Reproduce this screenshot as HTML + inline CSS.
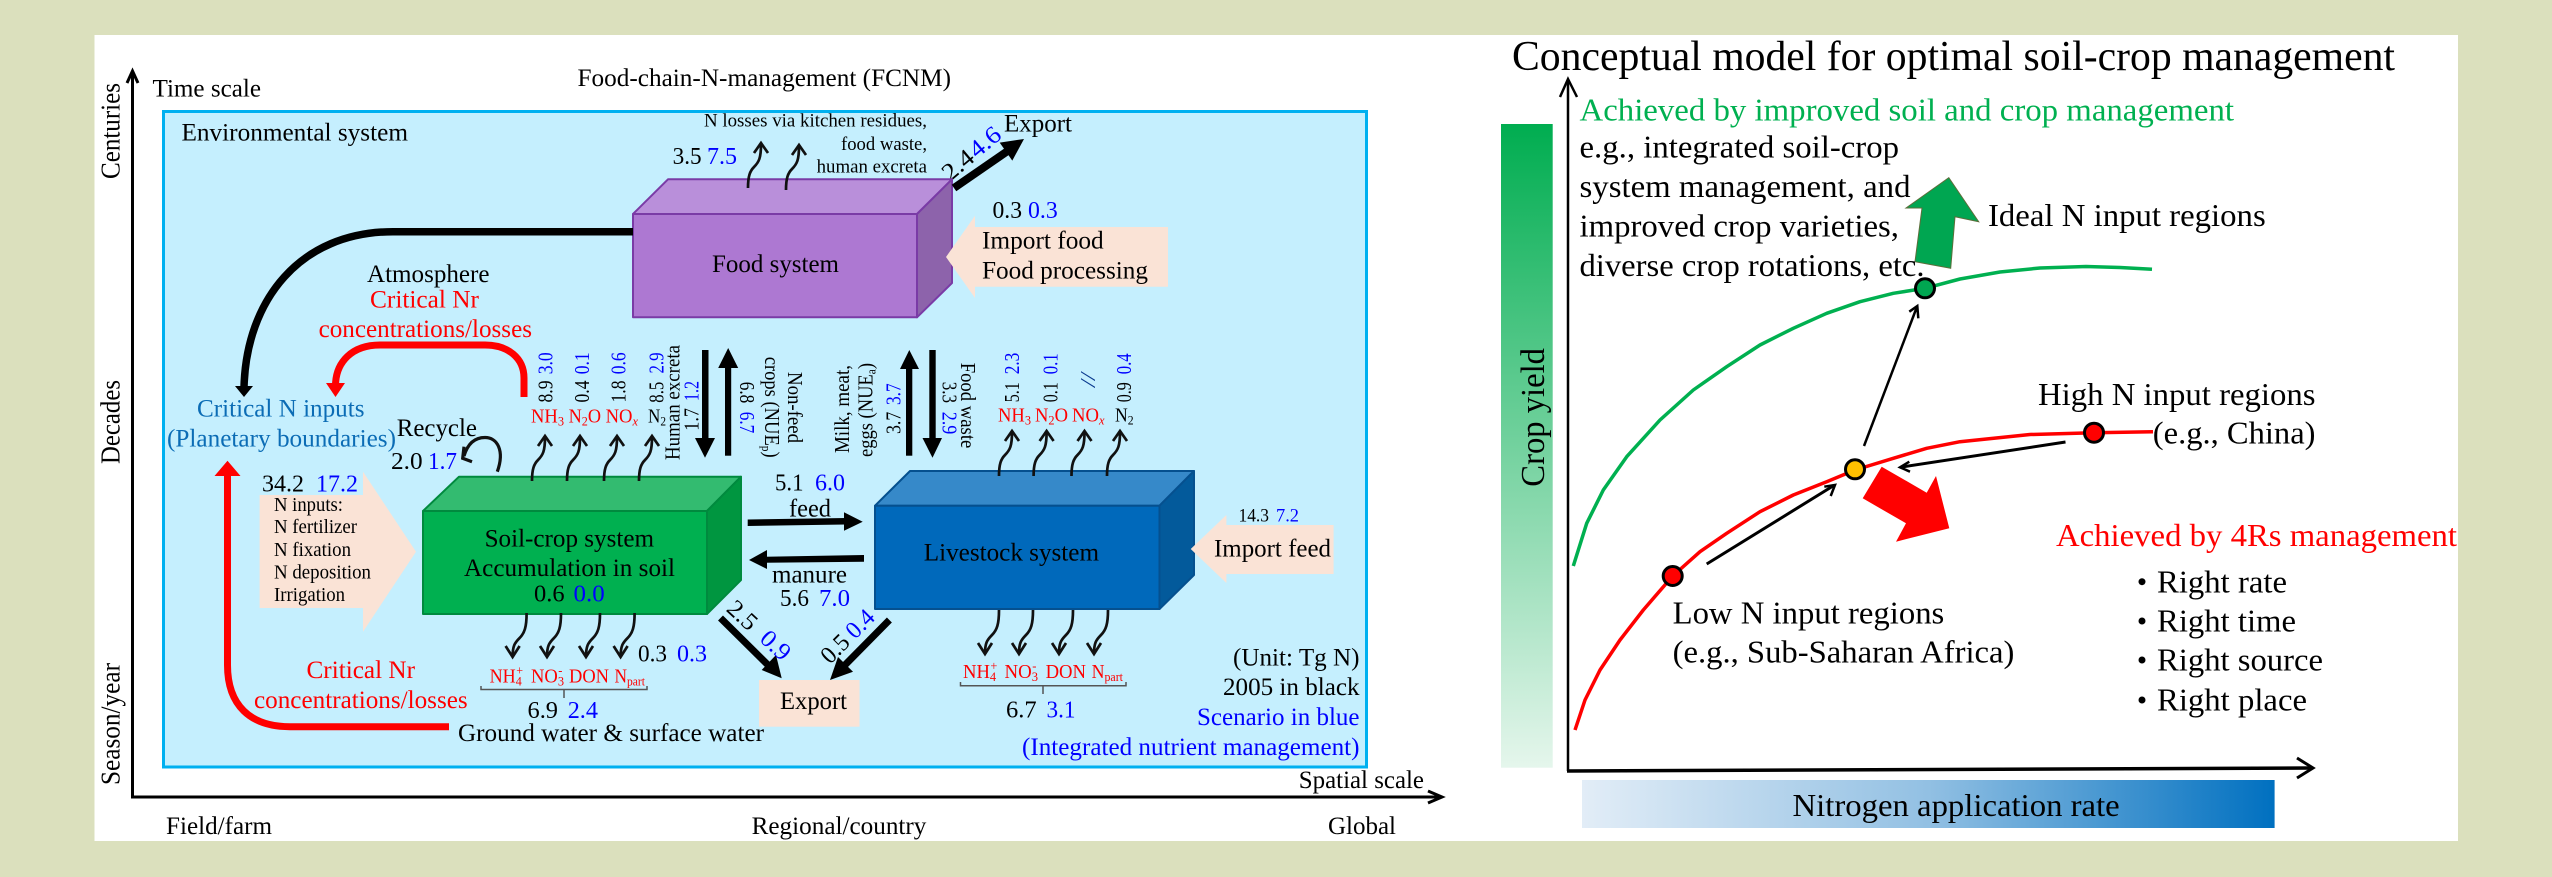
<!DOCTYPE html>
<html><head><meta charset="utf-8"><style>
html,body{margin:0;padding:0;background:#dbe0bd}
svg{display:block}
text{font-family:"Liberation Serif",serif;fill:#000}
.b{fill:#0000ff}.r{fill:#ff0000}.c{fill:#0b6cb5}.g{fill:#00b050}
.s{font-size:25.5px}.m{font-size:24.5px}.n{font-size:21px}.t{font-size:18.5px}.h{font-size:19.5px}.l{font-size:32px}
</style></head><body>
<svg width="2552" height="877" viewBox="0 0 2552 877" xmlns="http://www.w3.org/2000/svg">
<defs>
<linearGradient id="gg" x1="0" y1="0" x2="0" y2="1"><stop offset="0" stop-color="#00ad50"/><stop offset="1" stop-color="#e5f6ec"/></linearGradient>
<linearGradient id="bg" x1="0" y1="0" x2="1" y2="0"><stop offset="0" stop-color="#e2edf7"/><stop offset=".5" stop-color="#92c0e3"/><stop offset="1" stop-color="#0070c0"/></linearGradient>
<g id="up" fill="none" stroke="#111" stroke-width="2.7"><path d="M0 0C0 -12 2 -17 6 -21C11 -26 13 -30 13 -44"/><path d="M6 -35L13 -45L20 -35"/></g>
<g id="dn" fill="none" stroke="#111" stroke-width="2.7"><path d="M0 0C0 14 -2 20 -7 25C-12 30 -14 33 -14 44"/><path d="M-21 33L-14 44L-7 33"/></g>
</defs>
<rect width="2552" height="877" fill="#dbe0bd"/>
<rect x="94.5" y="35" width="2363.5" height="806" fill="#fff"/>

<!-- LEFT PANEL -->
<rect x="163.5" y="111.5" width="1203" height="655.5" fill="#c5effe" stroke="#00b0f0" stroke-width="3"/>
<g fill="none" stroke="#000" stroke-width="3"><path d="M132.5 72V797H1441"/><path d="M127 83L132.5 71L138 83"/><path d="M1428 791L1442 797L1428 803"/></g>

<text class="s" x="152.5" y="96.7" textLength="108.5" lengthAdjust="spacingAndGlyphs">Time scale</text>
<text class="s" x="577.5" y="86" textLength="373.5" lengthAdjust="spacingAndGlyphs">Food-chain-N-management (FCNM)</text>
<text font-size="27" transform="translate(119.5 179) rotate(-90)" textLength="96" lengthAdjust="spacingAndGlyphs">Centuries</text>
<text font-size="27" transform="translate(119.5 464) rotate(-90)" textLength="84" lengthAdjust="spacingAndGlyphs">Decades</text>
<text font-size="27" transform="translate(119.5 785) rotate(-90)" textLength="122" lengthAdjust="spacingAndGlyphs">Season/year</text>
<text class="s" x="181.5" y="140.7" textLength="226.5" lengthAdjust="spacingAndGlyphs">Environmental system</text>
<text class="t" x="704" y="126.7" textLength="223" lengthAdjust="spacingAndGlyphs">N losses via kitchen residues,</text>
<text class="t" x="841" y="150" textLength="86" lengthAdjust="spacingAndGlyphs">food waste,</text>
<text class="t" x="816.6" y="172.7" textLength="110.4" lengthAdjust="spacingAndGlyphs">human excreta</text>
<text class="m" x="672.6" y="164" textLength="29" lengthAdjust="spacingAndGlyphs">3.5</text>
<text class="m b" x="707" y="164" textLength="30" lengthAdjust="spacingAndGlyphs">7.5</text>
<text class="s" x="1004" y="131.7" textLength="68" lengthAdjust="spacingAndGlyphs">Export</text>
<text class="m" transform="translate(950 182) rotate(-40)" textLength="34" lengthAdjust="spacingAndGlyphs">2.4</text>
<text class="m b" transform="translate(977 159) rotate(-40)" textLength="34" lengthAdjust="spacingAndGlyphs">4.6</text>
<text class="m" x="992.5" y="218" textLength="29.5" lengthAdjust="spacingAndGlyphs">0.3</text>
<text class="m b" x="1028" y="218" textLength="29.7" lengthAdjust="spacingAndGlyphs">0.3</text>

<!-- Food system box -->
<g stroke="#7a3ba6" stroke-width="2" stroke-linejoin="round">
<polygon points="633,214 668,179.3 952,179.3 917,214" fill="#b98fda"/>
<polygon points="917,214 952,179.3 952,283 917,317.3" fill="#8d63ab"/>
<rect x="633" y="214" width="284" height="103.3" fill="#ad78d2"/>
</g>
<use href="#up" x="748" y="188"/>
<use href="#up" x="786" y="190"/>
<text class="s" x="712" y="272" textLength="127" lengthAdjust="spacingAndGlyphs">Food system</text>
<!-- Export arrow -->
<line x1="954" y1="188" x2="1012" y2="148" stroke="#000" stroke-width="8"/>
<polygon points="1024,139 1012.3,160.6 999.7,142.6" fill="#000"/>
<!-- Import food -->
<polygon points="946,257 975,215.7 975,227 1168,227 1168,286.7 975,286.7 975,298" fill="#fae3d6"/>
<text class="s" x="982" y="248.7" textLength="121.7" lengthAdjust="spacingAndGlyphs">Import food</text>
<text class="s" x="982" y="278.7" textLength="166" lengthAdjust="spacingAndGlyphs">Food processing</text>

<!-- Black curve -->
<path d="M633 231.7H393C300 231.7 246 300 244 388" fill="none" stroke="#000" stroke-width="7.5"/>
<polygon points="244,397 235,386 253,386" fill="#000"/>
<text class="s" x="367" y="282" textLength="122.5" lengthAdjust="spacingAndGlyphs">Atmosphere</text>
<text class="s r" x="370" y="307.7" textLength="109" lengthAdjust="spacingAndGlyphs">Critical Nr</text>
<text class="s r" x="318.6" y="337" textLength="213.4" lengthAdjust="spacingAndGlyphs">concentrations/losses</text>
<text class="s c" x="197" y="416.7" textLength="167.5" lengthAdjust="spacingAndGlyphs">Critical N inputs</text>
<text class="s c" x="167" y="446.7" textLength="229" lengthAdjust="spacingAndGlyphs">(Planetary boundaries)</text>
<text class="s" x="396.7" y="436" textLength="80.3" lengthAdjust="spacingAndGlyphs">Recycle</text>
<!-- Red atmosphere arrow -->
<path d="M524 397V378C524 358 508 345 485 345H380C352 345 336 362 335.5 385" fill="none" stroke="#f00" stroke-width="7"/>
<polygon points="335.5,397 326,383 345,383" fill="#f00"/>
<!-- Recycle arrow -->
<path d="M497.3 471.7C505 450 497 437.5 485 437.5C473 437.5 467 446 464 456" fill="none" stroke="#111" stroke-width="3.2"/>
<path d="M464 446.7L462.7 458.3L472 461.7" fill="none" stroke="#111" stroke-width="3.2"/>

<!-- vertical numbers group 1 -->
<text class="n" transform="translate(552.7 402.5) rotate(-90)" textLength="22" lengthAdjust="spacingAndGlyphs">8.9</text>
<text class="n b" transform="translate(552.7 374.3) rotate(-90)" textLength="22" lengthAdjust="spacingAndGlyphs">3.0</text>
<text class="n" transform="translate(589 402.5) rotate(-90)" textLength="22" lengthAdjust="spacingAndGlyphs">0.4</text>
<text class="n b" transform="translate(589 374.3) rotate(-90)" textLength="22" lengthAdjust="spacingAndGlyphs">0.1</text>
<text class="n" transform="translate(625.7 402.5) rotate(-90)" textLength="22" lengthAdjust="spacingAndGlyphs">1.8</text>
<text class="n b" transform="translate(625.7 374.3) rotate(-90)" textLength="22" lengthAdjust="spacingAndGlyphs">0.6</text>
<text class="n" transform="translate(663.3 402.7) rotate(-90)" textLength="21" lengthAdjust="spacingAndGlyphs">8.5</text>
<text class="n b" transform="translate(663.3 373.5) rotate(-90)" textLength="21" lengthAdjust="spacingAndGlyphs">2.9</text>
<text class="n" transform="translate(679.3 460) rotate(-90)" textLength="115" lengthAdjust="spacingAndGlyphs">Human excreta</text>
<text class="n" transform="translate(698.3 430.7) rotate(-90)" textLength="22.7" lengthAdjust="spacingAndGlyphs">1.7</text>
<text class="n b" transform="translate(698.3 401) rotate(-90)" textLength="20" lengthAdjust="spacingAndGlyphs">1.2</text>
<!-- vertical food arrows -->
<g fill="#000">
<rect x="702" y="350" width="6.5" height="90"/><polygon points="705,457.7 695,438 715,438"/>
<rect x="725" y="366" width="6.2" height="89.7"/><polygon points="728.2,348 718.2,368 738.2,368"/>
<rect x="906" y="366" width="6.3" height="89.7"/><polygon points="909.3,350 900,369 919,369"/>
<rect x="929.3" y="350" width="6.4" height="90"/><polygon points="932.5,457.7 922.5,438 942,438"/>
</g>
<text class="n" transform="translate(740 381.7) rotate(90)" textLength="21.6" lengthAdjust="spacingAndGlyphs">6.8</text>
<text class="n b" transform="translate(740 411.7) rotate(90)" textLength="21.6" lengthAdjust="spacingAndGlyphs">6.7</text>
<text class="n" transform="translate(765 356.7) rotate(90)" textLength="101" lengthAdjust="spacingAndGlyphs">crops (NUE<tspan font-size="13" dy="3">p</tspan><tspan dy="-3">)</tspan></text>
<text class="n" transform="translate(788 372) rotate(90)" textLength="71" lengthAdjust="spacingAndGlyphs">Non-feed</text>
<text class="n" transform="translate(849 453) rotate(-90)" textLength="88" lengthAdjust="spacingAndGlyphs">Milk, meat,</text>
<text class="n" transform="translate(872.5 457) rotate(-90)" textLength="94" lengthAdjust="spacingAndGlyphs">eggs (NUE<tspan font-size="13" dy="3">a</tspan><tspan dy="-3">)</tspan></text>
<text class="n" transform="translate(900.7 434) rotate(-90)" textLength="22.3" lengthAdjust="spacingAndGlyphs">3.7</text>
<text class="n b" transform="translate(900.7 405) rotate(-90)" textLength="21.7" lengthAdjust="spacingAndGlyphs">3.7</text>
<text class="n" transform="translate(942.7 381.7) rotate(90)" textLength="21.3" lengthAdjust="spacingAndGlyphs">3.3</text>
<text class="n b" transform="translate(942.7 411.7) rotate(90)" textLength="22.6" lengthAdjust="spacingAndGlyphs">2.9</text>
<text class="n" transform="translate(961 362.7) rotate(90)" textLength="85.6" lengthAdjust="spacingAndGlyphs">Food waste</text>
<text class="n" transform="translate(1019 402.3) rotate(-90)" textLength="20" lengthAdjust="spacingAndGlyphs">5.1</text>
<text class="n b" transform="translate(1019 374.3) rotate(-90)" textLength="21.6" lengthAdjust="spacingAndGlyphs">2.3</text>
<text class="n" transform="translate(1057.7 402.3) rotate(-90)" textLength="20" lengthAdjust="spacingAndGlyphs">0.1</text>
<text class="n b" transform="translate(1057.7 374.3) rotate(-90)" textLength="21" lengthAdjust="spacingAndGlyphs">0.1</text>
<text class="n" font-style="italic" transform="translate(1095 387) rotate(-90)" textLength="14" lengthAdjust="spacingAndGlyphs" style="fill:#0b3a8f">//</text>
<text class="n" transform="translate(1131 402.3) rotate(-90)" textLength="20" lengthAdjust="spacingAndGlyphs">0.9</text>
<text class="n b" transform="translate(1131 374.3) rotate(-90)" textLength="21" lengthAdjust="spacingAndGlyphs">0.4</text>

<!-- gas labels -->
<text class="h r" x="531" y="422.7" textLength="33" lengthAdjust="spacingAndGlyphs">NH<tspan font-size="13" dy="3">3</tspan></text>
<text class="h r" x="568.6" y="422.7" textLength="32.4" lengthAdjust="spacingAndGlyphs">N<tspan font-size="13" dy="3">2</tspan><tspan dy="-3">O</tspan></text>
<text class="h r" x="605.6" y="422.7" textLength="32.4" lengthAdjust="spacingAndGlyphs">NO<tspan font-size="13" dy="3" font-style="italic">x</tspan></text>
<text class="h" x="648" y="422.7" textLength="18" lengthAdjust="spacingAndGlyphs">N<tspan font-size="13" dy="3">2</tspan></text>
<text class="h r" x="998" y="421.7" textLength="33" lengthAdjust="spacingAndGlyphs">NH<tspan font-size="13" dy="3">3</tspan></text>
<text class="h r" x="1035" y="421.7" textLength="33" lengthAdjust="spacingAndGlyphs">N<tspan font-size="13" dy="3">2</tspan><tspan dy="-3">O</tspan></text>
<text class="h r" x="1072" y="421.7" textLength="32.5" lengthAdjust="spacingAndGlyphs">NO<tspan font-size="13" dy="3" font-style="italic">x</tspan></text>
<text class="h" x="1115" y="421.7" textLength="18.6" lengthAdjust="spacingAndGlyphs">N<tspan font-size="13" dy="3">2</tspan></text>

<!-- Soil-crop box -->
<g stroke="#008a3e" stroke-width="2" stroke-linejoin="round">
<polygon points="423,511 459,476.7 741,476.7 707,511" fill="#33bb70"/>
<polygon points="707,511 741,476.7 741,580 707,614" fill="#009640"/>
<rect x="423" y="511" width="284" height="103" fill="#00b050"/>
</g>
<use href="#up" x="532" y="481"/><use href="#up" x="567" y="481"/><use href="#up" x="604" y="481"/><use href="#up" x="639" y="481"/>
<use href="#dn" x="526.6" y="613"/><use href="#dn" x="561" y="613"/><use href="#dn" x="600" y="613"/><use href="#dn" x="634.6" y="613"/>
<text class="s" x="484.6" y="546.7" textLength="169.4" lengthAdjust="spacingAndGlyphs">Soil-crop system</text>
<text class="s" x="464" y="576" textLength="211" lengthAdjust="spacingAndGlyphs">Accumulation in soil</text>
<text class="m" x="534" y="601.7" textLength="30.6" lengthAdjust="spacingAndGlyphs">0.6</text>
<text class="m b" x="573.5" y="601.7" textLength="31.2" lengthAdjust="spacingAndGlyphs">0.0</text>
<text class="m" x="391" y="469" textLength="31.6" lengthAdjust="spacingAndGlyphs">2.0</text>
<text class="m b" x="428" y="469" textLength="29" lengthAdjust="spacingAndGlyphs">1.7</text>

<!-- N inputs arrow -->
<polygon points="259.6,495 363,495 363,471.7 416,551.7 363,631.7 363,608 259.6,608" fill="#fae3d6"/>
<text class="m" x="262" y="491.7" textLength="42" lengthAdjust="spacingAndGlyphs">34.2</text>
<text class="m b" x="316" y="491.7" textLength="42" lengthAdjust="spacingAndGlyphs">17.2</text>
<text class="h" x="274" y="511" textLength="69" lengthAdjust="spacingAndGlyphs">N inputs:</text>
<text class="h" x="274" y="533" textLength="83" lengthAdjust="spacingAndGlyphs">N fertilizer</text>
<text class="h" x="274" y="556" textLength="77" lengthAdjust="spacingAndGlyphs">N fixation</text>
<text class="h" x="274" y="578.7" textLength="97" lengthAdjust="spacingAndGlyphs">N deposition</text>
<text class="h" x="274" y="601" textLength="71" lengthAdjust="spacingAndGlyphs">Irrigation</text>

<!-- Red long arrow -->
<path d="M227.5 474V665C227.5 705 250 726.7 290 726.7H449" fill="none" stroke="#f00" stroke-width="7"/>
<polygon points="227.5,460.7 214.5,476 240.5,476" fill="#f00"/>
<text class="s r" x="306.5" y="678" textLength="108.5" lengthAdjust="spacingAndGlyphs">Critical Nr</text>
<text class="s r" x="254" y="708" textLength="213.7" lengthAdjust="spacingAndGlyphs">concentrations/losses</text>

<!-- Soil bottom labels -->
<text class="h r" x="489.6" y="682.7" textLength="33.4" lengthAdjust="spacingAndGlyphs">NH<tspan font-size="13" dy="3">4</tspan><tspan font-size="13" dy="-11" dx="-6">+</tspan></text>
<text class="h r" x="531" y="682.7" textLength="33" lengthAdjust="spacingAndGlyphs">NO<tspan font-size="13" dy="3">3</tspan><tspan font-size="13" dy="-11" dx="-6">-</tspan></text>
<text class="h r" x="569" y="682.7" textLength="40" lengthAdjust="spacingAndGlyphs">DON</text>
<text class="h r" x="614.5" y="682.7" textLength="30.5" lengthAdjust="spacingAndGlyphs">N<tspan font-size="13" dy="3">part</tspan></text>
<path d="M481 686V689.5H647V686M564 689.5V698" fill="none" stroke="#555" stroke-width="1.5"/>
<text class="m" x="638" y="661.7" textLength="29" lengthAdjust="spacingAndGlyphs">0.3</text>
<text class="m b" x="677" y="661.7" textLength="30" lengthAdjust="spacingAndGlyphs">0.3</text>
<text class="m" x="527.5" y="718" textLength="30.5" lengthAdjust="spacingAndGlyphs">6.9</text>
<text class="m b" x="567.7" y="718" textLength="30.3" lengthAdjust="spacingAndGlyphs">2.4</text>
<text class="s" x="458" y="741" textLength="306" lengthAdjust="spacingAndGlyphs">Ground water &amp; surface water</text>

<!-- feed / manure arrows -->
<polygon points="747.7,519.5 846,518 846,524.5 747.7,526" fill="#000"/><polygon points="862.7,521.7 844,512.3 844,530.7" fill="#000"/>
<polygon points="765,556.7 864,555 864,561.7 765,562.7" fill="#000"/><polygon points="749,560 767,550 767,569" fill="#000"/>
<text class="m" x="775" y="490.5" textLength="28.5" lengthAdjust="spacingAndGlyphs">5.1</text>
<text class="m b" x="815" y="490.5" textLength="30" lengthAdjust="spacingAndGlyphs">6.0</text>
<text class="s" x="789" y="516.7" textLength="42" lengthAdjust="spacingAndGlyphs">feed</text>
<text class="s" x="772" y="582.3" textLength="75" lengthAdjust="spacingAndGlyphs">manure</text>
<text class="m" x="780" y="606" textLength="29" lengthAdjust="spacingAndGlyphs">5.6</text>
<text class="m b" x="819" y="606" textLength="31" lengthAdjust="spacingAndGlyphs">7.0</text>

<!-- Livestock box -->
<g stroke="#05508f" stroke-width="2" stroke-linejoin="round">
<polygon points="875,505.7 910,471 1194,471 1159.5,505.7" fill="#3689c9"/>
<polygon points="1159.5,505.7 1194,471 1194,575 1159.5,609" fill="#035a9b"/>
<rect x="875" y="505.7" width="284.5" height="103.3" fill="#0069bb"/>
</g>
<use href="#up" x="999" y="476"/><use href="#up" x="1033.6" y="476"/><use href="#up" x="1071.5" y="476"/><use href="#up" x="1107" y="476"/>
<use href="#dn" x="999" y="610"/><use href="#dn" x="1033" y="610"/><use href="#dn" x="1073" y="610"/><use href="#dn" x="1108" y="610"/>
<text class="s" x="923.75" y="560.7" textLength="175.25" lengthAdjust="spacingAndGlyphs">Livestock system</text>

<!-- Import feed -->
<polygon points="1190.7,549 1226.4,515 1226.4,525 1333.6,525 1333.6,574 1226.4,574 1226.4,583" fill="#fae3d6"/>
<text class="t" x="1238.5" y="521.7" textLength="30.5" lengthAdjust="spacingAndGlyphs">14.3</text>
<text class="t b" x="1276" y="521.7" textLength="23" lengthAdjust="spacingAndGlyphs">7.2</text>
<text class="s" x="1214" y="556.7" textLength="117" lengthAdjust="spacingAndGlyphs">Import feed</text>

<!-- Export box -->
<rect x="759" y="680" width="100.5" height="46.7" fill="#fae3d6"/>
<text class="s" x="780" y="709" textLength="67" lengthAdjust="spacingAndGlyphs">Export</text>
<line x1="720.5" y1="618" x2="768" y2="665" stroke="#000" stroke-width="7"/>
<polygon points="781.7,678.3 776,655 761.7,670" fill="#000"/>
<line x1="889.4" y1="620" x2="843" y2="667" stroke="#000" stroke-width="7"/>
<polygon points="830,680 853,671.8 838,657" fill="#000"/>
<text class="m" transform="translate(725.2 610.2) rotate(42.6)" textLength="32" lengthAdjust="spacingAndGlyphs">2.5</text>
<text class="m b" transform="translate(758.5 640.2) rotate(42.6)" textLength="32" lengthAdjust="spacingAndGlyphs">0.9</text>
<text class="m" transform="translate(830 665) rotate(-45)" textLength="30" lengthAdjust="spacingAndGlyphs">0.5</text>
<text class="m b" transform="translate(855 640) rotate(-45)" textLength="30" lengthAdjust="spacingAndGlyphs">0.4</text>

<!-- Livestock bottom labels -->
<text class="h r" x="963" y="678" textLength="34.4" lengthAdjust="spacingAndGlyphs">NH<tspan font-size="13" dy="3">4</tspan><tspan font-size="13" dy="-11" dx="-6">+</tspan></text>
<text class="h r" x="1004.5" y="678" textLength="33.5" lengthAdjust="spacingAndGlyphs">NO<tspan font-size="13" dy="3">3</tspan><tspan font-size="13" dy="-11" dx="-6">-</tspan></text>
<text class="h r" x="1045.6" y="678" textLength="40.4" lengthAdjust="spacingAndGlyphs">DON</text>
<text class="h r" x="1091.6" y="678" textLength="31.4" lengthAdjust="spacingAndGlyphs">N<tspan font-size="13" dy="3">part</tspan></text>
<path d="M960.5 682V685.7H1126V682M1043 686V694" fill="none" stroke="#555" stroke-width="1.5"/>
<text class="m" x="1006" y="717.3" textLength="30.7" lengthAdjust="spacingAndGlyphs">6.7</text>
<text class="m b" x="1046.5" y="717.3" textLength="29" lengthAdjust="spacingAndGlyphs">3.1</text>
<text class="s" x="1233" y="665.7" textLength="126.5" lengthAdjust="spacingAndGlyphs">(Unit: Tg N)</text>
<text class="s" x="1223" y="695" textLength="136.5" lengthAdjust="spacingAndGlyphs">2005 in black</text>
<text class="s b" x="1197" y="725" textLength="162.5" lengthAdjust="spacingAndGlyphs">Scenario in blue</text>
<text class="s b" x="1022" y="755" textLength="337.5" lengthAdjust="spacingAndGlyphs">(Integrated nutrient management)</text>
<text class="s" x="1298.8" y="788" textLength="125.2" lengthAdjust="spacingAndGlyphs">Spatial scale</text>
<text class="s" x="166" y="834" textLength="106" lengthAdjust="spacingAndGlyphs">Field/farm</text>
<text class="s" x="751.6" y="834" textLength="174.8" lengthAdjust="spacingAndGlyphs">Regional/country</text>
<text class="s" x="1328" y="834" textLength="68" lengthAdjust="spacingAndGlyphs">Global</text>

<!-- RIGHT PANEL -->
<text font-size="42" x="1512" y="70" textLength="883" lengthAdjust="spacingAndGlyphs">Conceptual model for optimal soil-crop management</text>
<rect x="1501" y="124" width="51.7" height="643.7" fill="url(#gg)"/>
<text font-size="34" transform="translate(1543.8 486.7) rotate(-90)" textLength="138.7" lengthAdjust="spacingAndGlyphs">Crop yield</text>
<g fill="none" stroke="#000"><path d="M1568 80V771" stroke-width="2.5"/><path d="M1560 97L1568 79L1577 97" stroke-width="2.5"/><path d="M1567 771L2312 768" stroke-width="3.5"/><path d="M2297 758L2313 768L2297 778" stroke-width="3"/></g>

<polyline points="1573.3,566 1586.7,523.3 1603.3,490 1626.7,456.7 1660,420 1693.3,390 1726.7,366.7 1760,345 1793.3,328.3 1826.7,313.3 1860,301.7 1893.3,293.3 1925,288.3 1960,279 2000,272 2040,268 2086,266.5 2120,267.5 2152,269.3" fill="none" stroke="#00b050" stroke-width="3.5" stroke-linejoin="round"/>
<polyline points="1575,730 1585,700 1600,670 1620,640 1643.3,610 1672.7,576 1700,551.7 1726.7,533.3 1760,511.7 1793.3,495 1826.7,481.7 1855,470 1893.3,458.3 1926.7,448.3 1960,441.7 2030,434.5 2094,432.7 2153,431.7" fill="none" stroke="#f00" stroke-width="3.5" stroke-linejoin="round"/>
<polygon points="1948.8,177.7 1978.7,221.7 1955,216.7 1950.7,268.3 1915,261.7 1922,208 1906,208" fill="#00a651" stroke="#5b6e3a" stroke-width="1"/>
<polygon points="1881.7,466.7 1926.7,492.7 1936,476 1949.3,528.3 1896,541.7 1906,523.3 1862.7,498.3" fill="#f00"/>
<g stroke="#000" fill="none">
<path d="M1706.7 564L1833 486" stroke-width="3"/><path d="M1824.3 486.7L1835 485L1830.7 496" stroke-width="2.5"/>
<path d="M1864 446L1916.5 308" stroke-width="2.5"/><path d="M1909.3 311.7L1917.3 306L1918.3 318.3" stroke-width="2.5"/>
<path d="M2065.5 442L1902 467" stroke-width="3"/><path d="M1909.3 461.7L1900 467.3L1910 471.7" stroke-width="2.5"/>
</g>
<g stroke="#000" stroke-width="3"><circle cx="1925" cy="288.3" r="9.5" fill="#00a651"/><circle cx="2094" cy="432.7" r="9.5" fill="#f00"/><circle cx="1855" cy="469.3" r="9.5" fill="#ffc000"/><circle cx="1672.7" cy="576" r="9.5" fill="#f00"/></g>

<text class="l g" x="1579.5" y="120.7" textLength="654.5" lengthAdjust="spacingAndGlyphs">Achieved by improved soil and crop management</text>
<text class="l" x="1579.5" y="157.7" textLength="319.5" lengthAdjust="spacingAndGlyphs">e.g., integrated soil-crop</text>
<text class="l" x="1579.5" y="197" textLength="331" lengthAdjust="spacingAndGlyphs">system management, and</text>
<text class="l" x="1579.5" y="236.7" textLength="319.5" lengthAdjust="spacingAndGlyphs">improved crop varieties,</text>
<text class="l" x="1579.5" y="276" textLength="345" lengthAdjust="spacingAndGlyphs">diverse crop rotations, etc.</text>
<text class="l" x="1988" y="226" textLength="277.7" lengthAdjust="spacingAndGlyphs">Ideal N input regions</text>
<text class="l" x="2038" y="405" textLength="277.5" lengthAdjust="spacingAndGlyphs">High N input regions</text>
<text class="l" x="2152.8" y="443.3" textLength="162.7" lengthAdjust="spacingAndGlyphs">(e.g., China)</text>
<text class="l" x="1672.6" y="623.3" textLength="271.7" lengthAdjust="spacingAndGlyphs">Low N input regions</text>
<text class="l" x="1672.6" y="662.7" textLength="341.8" lengthAdjust="spacingAndGlyphs">(e.g., Sub-Saharan Africa)</text>
<text class="l r" x="2056" y="546" textLength="401" lengthAdjust="spacingAndGlyphs">Achieved by 4Rs management</text>
<g fill="#000"><circle cx="2142" cy="581.7" r="3.5"/><circle cx="2142" cy="621" r="3.5"/><circle cx="2142" cy="660" r="3.5"/><circle cx="2142" cy="700" r="3.5"/></g>
<text class="l" x="2157" y="592.7" textLength="130" lengthAdjust="spacingAndGlyphs">Right rate</text>
<text class="l" x="2157" y="631.7" textLength="139" lengthAdjust="spacingAndGlyphs">Right time</text>
<text class="l" x="2157" y="670.7" textLength="166" lengthAdjust="spacingAndGlyphs">Right source</text>
<text class="l" x="2157" y="710.7" textLength="150" lengthAdjust="spacingAndGlyphs">Right place</text>
<rect x="1582" y="780" width="692.6" height="48" fill="url(#bg)"/>
<text class="l" x="1792.5" y="816" textLength="327.2" lengthAdjust="spacingAndGlyphs">Nitrogen application rate</text>
</svg>
</body></html>
